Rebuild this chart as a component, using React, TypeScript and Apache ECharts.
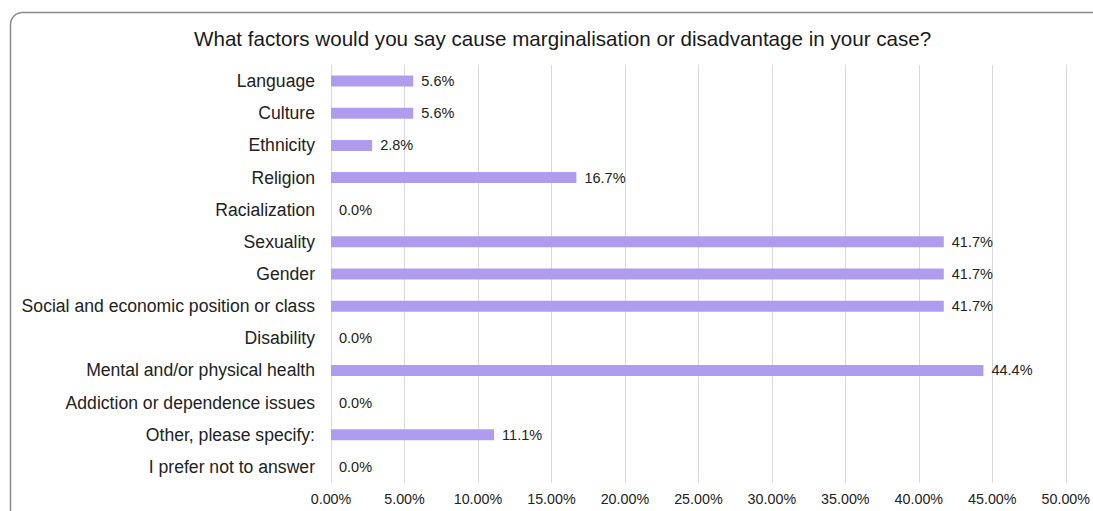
import React, { useEffect, useRef } from "react";
import * as echarts from "echarts";

const title = "What factors would you say cause marginalisation or disadvantage in your case?";
const categories = [
  "Language",
  "Culture",
  "Ethnicity",
  "Religion",
  "Racialization",
  "Sexuality",
  "Gender",
  "Social and economic position or class",
  "Disability",
  "Mental and/or physical health",
  "Addiction or dependence issues",
  "Other, please specify:",
  "I prefer not to answer",
];
const values = [5.6, 5.6, 2.8, 16.7, 0.0, 41.7, 41.7, 41.7, 0.0, 44.4, 0.0, 11.1, 0.0];
const axisMin = 0;
const axisMax = 50;
const axisInterval = 5;

export default function App() {
  const ref = useRef<HTMLDivElement>(null);
  useEffect(() => {
    if (!ref.current) return;
    const chart = echarts.init(ref.current, null, { renderer: "svg" });
    const font = "'Liberation Sans', Arial, Helvetica, sans-serif";
    chart.setOption({
      animation: false,
      backgroundColor: "#ffffff",
      textStyle: { fontFamily: font },
      title: {
        text: title,
        left: 189,
        top: 23,
        textStyle: { fontFamily: font, fontSize: 20.6, fontWeight: "normal", color: "#1a1a1a" },
      },
      graphic: [
        {
          type: "rect",
          shape: { x: 10.5, y: 12.5, width: 1110, height: 530, r: 12 },
          style: { fill: "none", stroke: "#8a8a8a", lineWidth: 1.5 },
          silent: true,
        },
      ],
      grid: { left: 331, right: 27, top: 65, bottom: 28, containLabel: false },
      xAxis: {
        type: "value",
        min: axisMin,
        max: axisMax,
        interval: axisInterval,
        axisLine: { show: false },
        axisTick: { show: false },
        splitLine: { show: true, lineStyle: { color: "#d9d9d9", width: 1 } },
        axisLabel: {
          fontFamily: font,
          fontSize: 14.3,
          color: "#222",
          margin: 9,
          formatter: (v: number) => v.toFixed(2) + "%",
        },
      },
      yAxis: {
        type: "category",
        data: categories,
        inverse: true,
        axisLine: { show: false },
        axisTick: { show: false },
        splitLine: { show: false },
        axisLabel: { fontFamily: font, fontSize: 17.6, color: "#222", margin: 16 },
      },
      series: [
        {
          type: "bar",
          data: values,
          barWidth: 11,
          itemStyle: { color: "#b09cef" },
          label: {
            show: true,
            position: "right",
            distance: 8,
            fontFamily: font,
            fontSize: 14.5,
            color: "#222",
            formatter: (p: any) => Number(p.value).toFixed(1) + "%",
          },
        },
      ],
    });
    return () => chart.dispose();
  }, []);
  return (
    <div
      ref={ref}
      style={{ position: "fixed", left: 0, top: 0, width: 1093, height: 511 }}
    />
  );
}
